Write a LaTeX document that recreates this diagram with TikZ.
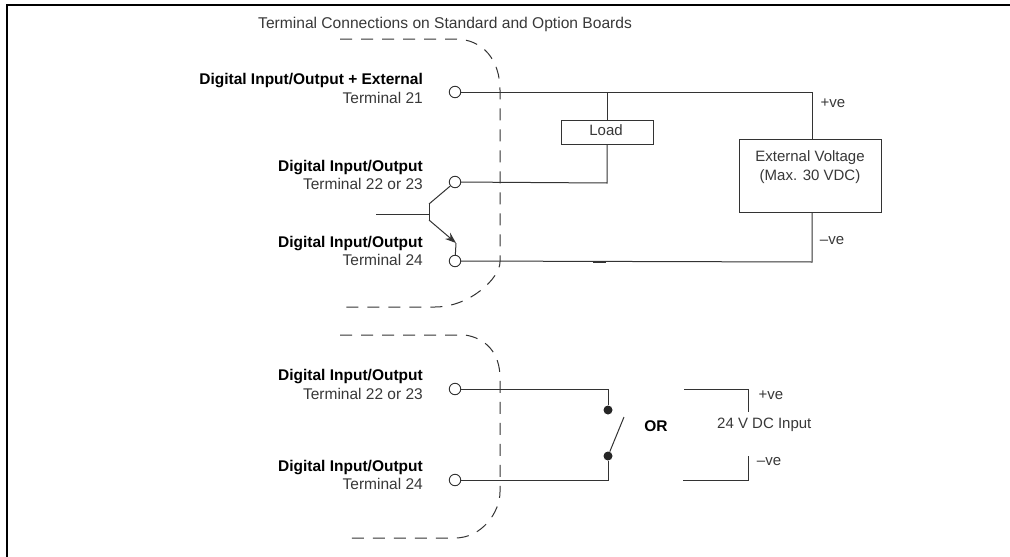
\documentclass[tikz,border=0pt]{standalone}
\usepackage{fontspec}
\setmainfont{Liberation Sans}
\usetikzlibrary{arrows.meta}
\definecolor{wirecol}{gray}{0.2}
\definecolor{txtcol}{gray}{0.22}
\tikzset{
	wire/.style={draw=wirecol,line width=1pt},
	dashline/.style={draw=wirecol,line width=1pt,dash pattern=on 12pt off 9pt},
	terminal/.style={circle,draw=wirecol,fill=white,line width=0.9pt,inner sep=0pt,minimum size=11.5pt},
	contact/.style={circle,fill=black!85,inner sep=0pt,minimum size=9pt},
	box/.style={draw=wirecol,fill=white,line width=1pt,inner sep=0pt},
	txt/.style={inner sep=0pt,text=txtcol,font=\fontsize{15}{18.5}\selectfont},
	termlabel/.style={txt,anchor=east,align=right,font=\fontsize{15.5}{18.5}\selectfont}
}
\begin{document}
\begin{tikzpicture}[x=1pt,y=-1pt]
	\useasboundingbox (0,0) rectangle (1010,557);
	
	\coordinate (framea) at (7,557);
	\coordinate (frameb) at (7,5);
	\coordinate (framec) at (1010,5);
	\draw[line width=1.3pt,line cap=rect] (framea) -- (frameb) -- (framec);
	
	\node[txt,anchor=west,font=\fontsize{15.6}{18}\selectfont] (title) at (258,24) {Terminal Connections on Standard and Option Boards};
	
	\draw[dashline] (340,39) -- (455,39) .. controls (483,39) and (500,60) .. (500,90) -- (500,262) .. controls (500,278) and (470,307) .. (435,307) -- (340,307);
	\draw[dashline] (340,335) -- (465,335) .. controls (485,338) and (500,352) .. (500,378) -- (500,492) .. controls (500,512) and (482,538) .. (455,538) -- (343,538);
	
	\node[terminal] (tera) at (455,92) {};
	\node[terminal] (terb) at (455,182) {};
	\node[terminal] (terc) at (455,261) {};
	\node[terminal] (terd) at (455,389) {};
	\node[terminal] (tere) at (455,480) {};
	
	\node[termlabel] (laba) at (423,88.5) {\textcolor{black}{\bfseries Digital Input/Output + External}\\Terminal 21};
	\node[termlabel] (labb) at (423,175) {\textcolor{black}{\bfseries Digital Input/Output}\\Terminal 22 or 23};
	\node[termlabel] (labc) at (423,251) {\textcolor{black}{\bfseries Digital Input/Output}\\Terminal 24};
	\node[termlabel] (labd) at (423,384.5) {\textcolor{black}{\bfseries Digital Input/Output}\\Terminal 22 or 23};
	\node[termlabel] (labe) at (423,475) {\textcolor{black}{\bfseries Digital Input/Output}\\Terminal 24};
	
	\node[box,minimum width=92pt,minimum height=24pt] (load) at (607,132) {};
	\node[txt] (loadtxt) at (606,130) {Load};
	\node[box,minimum width=142pt,minimum height=73pt] (extbox) at (810,175.5) {};
	\node[txt,align=center] (exttxt) at (810,167) {External Voltage\\(Max. 30 VDC)};
	
	\coordinate (vplus) at (812,92);
	\coordinate (vminus) at (812,262);
	\coordinate (loadtop) at (607,92);
	\coordinate (loadbot) at (607,183);
	\draw[wire] (tera) -- (vplus) -- (vplus |- extbox.north);
	\draw[wire] (loadtop) -- (load.north);
	\draw[wire] (load.south) -- (loadbot) -- (terb);
	\draw[wire] (terc) -- (vminus) -- (vminus |- extbox.south);
	\coordinate (marka) at (593,262);
	\coordinate (markb) at (606,262);
	\draw[wirecol,line width=1.8pt] (marka) -- (markb);
	
	\node[txt] (plusa) at (833,103) {+ve};
	\node[txt] (minusa) at (832,241) {--ve};
	
	% transistor
	\coordinate (basein) at (376,214);
	\coordinate (basemid) at (429,214);
	\coordinate (baseup) at (429,204);
	\coordinate (basedown) at (429,220);
	\coordinate (emit) at (456,243);
	\draw[wire] (basein) -- (basemid);
	\draw[wire] (baseup) -- (basedown);
	\draw[wire] (baseup) -- (terb);
	\draw[wire,-{Stealth[length=11pt,width=8pt]}] (basedown) -- (emit);
	\draw[wire] (emit) -- (terc);
	
	% switch
	\node[contact] (swa) at (608,410) {};
	\node[contact] (swb) at (608,456) {};
	\coordinate (swarm) at (624,417);
	\coordinate (cornera) at (608,389);
	\coordinate (cornerb) at (608,480);
	\draw[wire] (terd) -- (cornera) -- (swa);
	\draw[wire] (tere) -- (cornerb) -- (swb);
	\draw[wire] (swb) -- (swarm);
	\node[txt,font=\fontsize{15.5}{18}\selectfont\bfseries,text=black] (ortxt) at (656,426) {OR};
	
	\coordinate (ina) at (684,389);
	\coordinate (inb) at (748,389);
	\coordinate (inc) at (748,412);
	\coordinate (ind) at (683,480);
	\coordinate (ine) at (748,480);
	\coordinate (inf) at (748,456);
	\draw[wire] (ina) -- (inb) -- (inc);
	\draw[wire] (ind) -- (ine) -- (inf);
	\node[txt,anchor=west] (input) at (717,425) {24 V DC Input};
	\node[txt] (plusb) at (771,395) {+ve};
	\node[txt] (minusb) at (769,462) {--ve};
\end{tikzpicture}
\end{document}
